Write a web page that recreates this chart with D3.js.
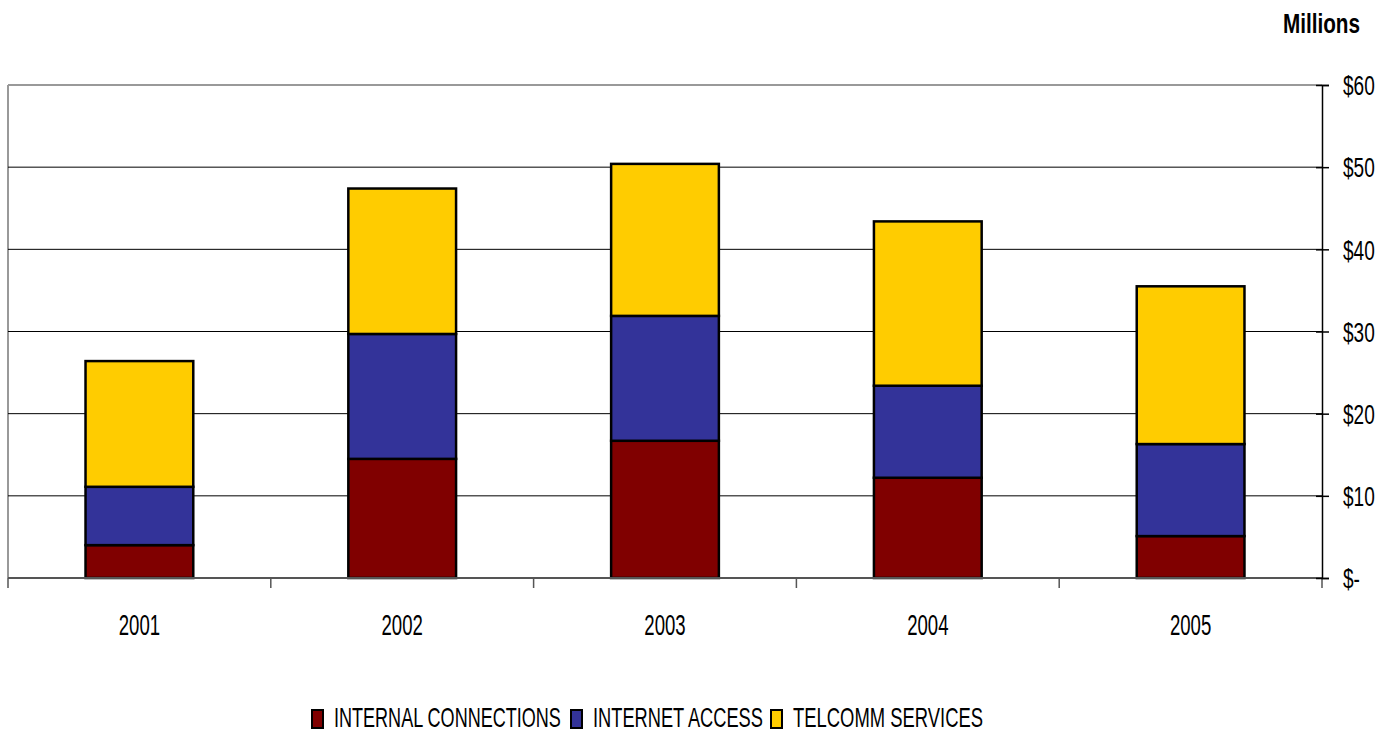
<!DOCTYPE html>
<html>
<head>
<meta charset="utf-8">
<script src="https://cdn.jsdelivr.net/npm/d3@7"></script>
<style>
  body { margin: 0; background: #fff; }
  text { font-family: "Liberation Sans", Arial, sans-serif; fill: #000; }
</style>
</head>
<body>
<div id="chart"></div>
<script>
// data (millions of dollars)
var years = ["2001", "2002", "2003", "2004", "2005"];
var seriesNames = ["INTERNAL CONNECTIONS", "INTERNET ACCESS", "TELCOMM SERVICES"];
var seriesColors = ["#800000", "#333399", "#ffcc00"];
var internalConnections = [4.0, 14.5, 16.7, 12.2, 5.1];
var internetAccess = [7.1, 15.2, 15.2, 11.2, 11.2];
var telcommServices = [15.3, 17.7, 18.5, 20.0, 19.2];
var yTicks = [0, 10, 20, 30, 40, 50, 60];

var rows = years.map(function(y, i) {
    return {
        year: y,
        "INTERNAL CONNECTIONS": internalConnections[i],
        "INTERNET ACCESS": internetAccess[i],
        "TELCOMM SERVICES": telcommServices[i]
    };
});

var W = 1392, H = 733;
var margin = {top: 85, right: 70, bottom: 155, left: 8};
var width = W - margin.left - margin.right,
    height = H - margin.top - margin.bottom;

// the reference uses a condensed face; squeeze Liberation Sans horizontally
var squeeze = function(sel, px, py, sx) {
    sel.attr("x", 0).attr("y", 0)
        .attr("transform", function(d, i) {
            var xx = typeof px === "function" ? px(d, i) : px;
            var yy = typeof py === "function" ? py(d, i) : py;
            var ss = typeof sx === "function" ? sx.call(this, d, i) : sx;
            return "translate(" + xx + "," + yy + ") scale(" + ss + ",1)";
        });
};

var svg = d3.select("#chart").append("svg")
    .attr("width", W)
    .attr("height", H);

var g = svg.append("g")
    .attr("transform", "translate(" + margin.left + "," + margin.top + ")");

var x = d3.scaleBand()
    .domain(years)
    .range([0, width])
    .paddingInner(0.59)
    .paddingOuter(0.295);

var y = d3.scaleLinear()
    .domain([0, 60])
    .range([height, 0]);

var color = d3.scaleOrdinal().domain(seriesNames).range(seriesColors);

// plot area border (grey top + left)
g.append("line").attr("x1", 0).attr("x2", width).attr("y1", 0).attr("y2", 0)
    .attr("stroke", "#999").attr("stroke-width", 2);
g.append("line").attr("x1", 0).attr("x2", 0).attr("y1", 0).attr("y2", height)
    .attr("stroke", "#999").attr("stroke-width", 2);

// gridlines
g.selectAll(".grid")
    .data(yTicks.filter(function(d) { return d > 0 && d < 60; }))
    .enter().append("line")
    .attr("class", "grid")
    .attr("x1", 0).attr("x2", width)
    .attr("y1", function(d) { return y(d); })
    .attr("y2", function(d) { return y(d); })
    .attr("stroke", "#000").attr("stroke-width", 1);

// stacked bars
var stack = d3.stack().keys(seriesNames);
var layers = stack(rows);

g.selectAll(".layer")
    .data(layers)
    .enter().append("g")
    .attr("class", "layer")
    .attr("fill", function(d) { return color(d.key); })
    .selectAll("rect")
    .data(function(d) { return d; })
    .enter().append("rect")
    .attr("x", function(d) { return x(d.data.year); })
    .attr("y", function(d) { return y(d[1]); })
    .attr("width", x.bandwidth())
    .attr("height", function(d) { return y(d[0]) - y(d[1]); })
    .attr("stroke", "#000")
    .attr("stroke-width", 2.5);

// x axis with ticks at category boundaries
g.append("line").attr("x1", 0).attr("x2", width).attr("y1", height).attr("y2", height)
    .attr("stroke", "#555").attr("stroke-width", 2);
var step = x.step();
g.selectAll(".xtick")
    .data(d3.range(years.length + 1))
    .enter().append("line")
    .attr("class", "xtick")
    .attr("x1", function(i) { return i * step; })
    .attr("x2", function(i) { return i * step; })
    .attr("y1", height).attr("y2", height + 10)
    .attr("stroke", "#555").attr("stroke-width", 1.5);
g.selectAll(".xlabel")
    .data(years)
    .enter().append("text")
    .attr("class", "xlabel")
    .attr("text-anchor", "middle")
    .style("font-size", "30px")
    .text(function(d) { return d; })
    .call(squeeze, function(d) { return x(d) + x.bandwidth() / 2; }, height + 57, 0.62);

// right y axis
var yAxis = d3.axisRight(y)
    .tickValues(yTicks)
    .tickSize(7)
    .tickPadding(12)
    .tickFormat(function(d) { return d === 0 ? "$-" : "$" + d; });
var yAxisGroup = g.append("g")
    .attr("class", "axis y-axis")
    .attr("transform", "translate(" + width + ",0)")
    .call(yAxis);
yAxisGroup.select(".domain").attr("stroke", "#000").attr("stroke-width", 1.5);
yAxisGroup.selectAll(".tick line").attr("stroke", "#000").attr("x1", -6).attr("stroke-width", 1.5);
yAxisGroup.selectAll(".tick text")
    .style("font-size", "28px")
    .style("font-family", "'Liberation Sans', Arial, sans-serif")
    .attr("fill", "#000")
    .attr("dy", "0.35em")
    .call(squeeze, 21, 0, 0.68);

// units label
svg.append("text")
    .attr("text-anchor", "end")
    .style("font-size", "28px")
    .style("font-weight", "bold")
    .text("Millions")
    .call(squeeze, 1360, 33, 0.74);

// legend
var legendX = [312, 571, 771];
var legendW = [227, 170, 190];
var legend = svg.selectAll(".legend")
    .data(seriesNames)
    .enter().append("g")
    .attr("class", "legend")
    .attr("transform", function(d, i) { return "translate(" + legendX[i] + ",710)"; });
legend.append("rect")
    .attr("width", 11).attr("height", 18)
    .attr("fill", function(d) { return color(d); })
    .attr("stroke", "#000").attr("stroke-width", 2);
legend.append("text")
    .style("font-size", "27px")
    .text(function(d) { return d; })
    .call(squeeze, 22, 17, function(d, i) {
        return legendW[i] / this.getComputedTextLength();
    });
</script>
</body>
</html>
